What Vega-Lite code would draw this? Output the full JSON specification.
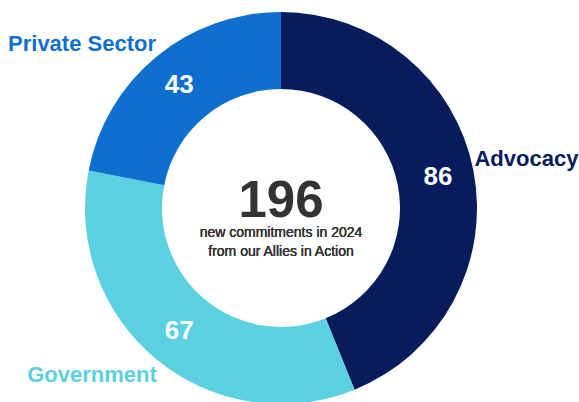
{
  "$schema": "https://vega.github.io/schema/vega-lite/v6.json",
  "width": 562,
  "height": 388,
  "padding": {"left": 0, "top": 14, "right": 17, "bottom": 0},
  "autosize": {"type": "none"},
  "background": "white",
  "view": {"stroke": null},
  "data": {
    "values": [
      {"category": "Advocacy", "value": 86},
      {"category": "Government", "value": 67},
      {"category": "Private Sector", "value": 43}
    ]
  },
  "layer": [
    {
      "mark": {"type": "arc", "outerRadius": 196, "innerRadius": 119},
      "encoding": {
        "theta": {"field": "value", "type": "quantitative", "stack": true},
        "color": {
          "field": "category",
          "type": "nominal",
          "scale": {
            "domain": ["Advocacy", "Government", "Private Sector"],
            "range": ["#061c5c", "#5ad0e1", "#0f6fce"]
          },
          "legend": null
        }
      }
    },
    {
      "mark": {
        "type": "text",
        "radius": 160,
        "font": "Liberation Sans",
        "fontSize": 26,
        "fontWeight": "bold",
        "baseline": "middle",
        "align": "center"
      },
      "encoding": {
        "theta": {"field": "value", "type": "quantitative", "stack": true},
        "detail": {"field": "category", "type": "nominal"},
        "order": {"field": "category", "type": "nominal", "sort": "ascending"},
        "text": {"field": "value", "type": "quantitative"},
        "color": {"value": "white"}
      }
    },
    {
      "mark": {
        "type": "text",
        "radius": 250,
        "font": "Liberation Sans",
        "fontSize": 22,
        "fontWeight": "bold",
        "baseline": "middle",
        "align": "center",
        "dx": {"expr": "datum.category == 'Government' ? -30 : datum.category == 'Private Sector' ? -40 : 0"},
        "dy": {"expr": "datum.category == 'Government' ? -26 : datum.category == 'Private Sector' ? 29 : -1"}
      },
      "encoding": {
        "theta": {"field": "value", "type": "quantitative", "stack": true},
        "text": {"field": "category", "type": "nominal"},
        "color": {
          "field": "category",
          "type": "nominal",
          "scale": {
            "domain": ["Advocacy", "Government", "Private Sector"],
            "range": ["#061c5c", "#5ad0e1", "#0f6fce"]
          },
          "legend": null
        }
      }
    },
    {
      "transform": [{"aggregate": [{"op": "sum", "field": "value", "as": "total"}]}],
      "mark": {
        "type": "text",
        "font": "Liberation Sans",
        "fontSize": 51,
        "fontWeight": "bold",
        "baseline": "alphabetic",
        "align": "center",
        "dy": 9,
        "fill": "#333333"
      },
      "encoding": {
        "text": {"field": "total", "type": "quantitative"}
      }
    },
    {
      "mark": {
        "type": "text",
        "font": "Liberation Sans",
        "fontSize": 14,
        "baseline": "alphabetic",
        "align": "center",
        "lineHeight": 19,
        "dy": 29,
        "fill": "#333333",
        "text": ["new commitments in 2024", "from our Allies in Action"]
      }
    }
  ]
}
